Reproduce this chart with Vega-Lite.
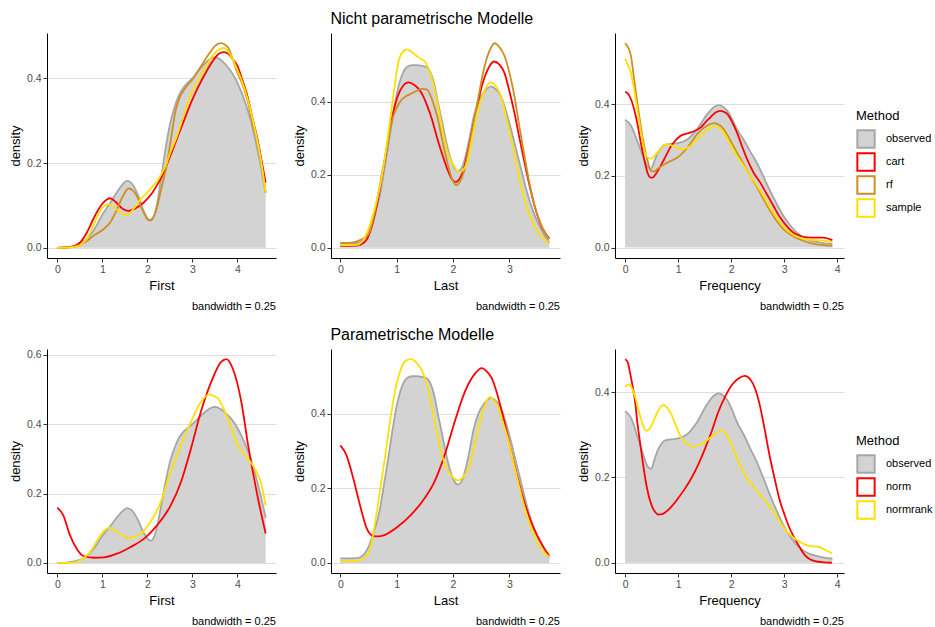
{
"$schema":"https://vega.github.io/schema/vega-lite/v6.json",
"background":"white",
"padding":{"left":9,"top":11,"right":0,"bottom":0},
"config":{
 "font":"Liberation Sans",
 "view":{"stroke":null},
 "axis":{"labelFont":"Liberation Sans","labelFontSize":10.5,"labelColor":"#4D4D4D","titleFont":"Liberation Sans","titleFontSize":13,"titleFontWeight":"normal","titleColor":"#000000","tickColor":"#333333","tickSize":4,"labelPadding":2,"domainColor":"#000000","domainWidth":1,"gridColor":"#DEDEDE","gridWidth":1},
 "axisX":{"grid":false,"titlePadding":5},
 "axisY":{"grid":true,"titlePadding":4},
 "title":{"fontWeight":"normal","font":"Liberation Sans","color":"#000000"},
 "legend":{"titleFont":"Liberation Sans","labelFont":"Liberation Sans","titleFontSize":13,"titleFontWeight":"normal","labelFontSize":11,"labelColor":"#000000","titleColor":"#000000"},
 "concat":{"spacing":17}
},
"data":{"values":[
{"v":"First","m":"observed","x":0,"d":0},{"v":"First","m":"observed","x":0.2,"d":0.001},{"v":"First","m":"observed","x":0.4,"d":0.005},{"v":"First","m":"observed","x":0.6,"d":0.016},{"v":"First","m":"observed","x":0.8,"d":0.04},{"v":"First","m":"observed","x":1.0,"d":0.078},{"v":"First","m":"observed","x":1.2,"d":0.11},{"v":"First","m":"observed","x":1.4,"d":0.143},{"v":"First","m":"observed","x":1.55,"d":0.158},{"v":"First","m":"observed","x":1.7,"d":0.145},{"v":"First","m":"observed","x":1.8,"d":0.122},{"v":"First","m":"observed","x":1.9,"d":0.092},{"v":"First","m":"observed","x":2.0,"d":0.07},{"v":"First","m":"observed","x":2.08,"d":0.064},{"v":"First","m":"observed","x":2.2,"d":0.095},{"v":"First","m":"observed","x":2.3,"d":0.16},{"v":"First","m":"observed","x":2.4,"d":0.23},{"v":"First","m":"observed","x":2.5,"d":0.29},{"v":"First","m":"observed","x":2.6,"d":0.33},{"v":"First","m":"observed","x":2.7,"d":0.36},{"v":"First","m":"observed","x":2.8,"d":0.378},{"v":"First","m":"observed","x":2.9,"d":0.39},{"v":"First","m":"observed","x":3.0,"d":0.4},{"v":"First","m":"observed","x":3.1,"d":0.413},{"v":"First","m":"observed","x":3.2,"d":0.426},{"v":"First","m":"observed","x":3.3,"d":0.437},{"v":"First","m":"observed","x":3.4,"d":0.446},{"v":"First","m":"observed","x":3.5,"d":0.45},{"v":"First","m":"observed","x":3.6,"d":0.446},{"v":"First","m":"observed","x":3.7,"d":0.437},{"v":"First","m":"observed","x":3.8,"d":0.425},{"v":"First","m":"observed","x":3.9,"d":0.41},{"v":"First","m":"observed","x":4.0,"d":0.39},{"v":"First","m":"observed","x":4.1,"d":0.365},{"v":"First","m":"observed","x":4.2,"d":0.335},{"v":"First","m":"observed","x":4.3,"d":0.3},{"v":"First","m":"observed","x":4.4,"d":0.255},{"v":"First","m":"observed","x":4.5,"d":0.205},{"v":"First","m":"observed","x":4.63,"d":0.13},
{"v":"First","m":"cart","x":0,"d":0},{"v":"First","m":"cart","x":0.3,"d":0.002},{"v":"First","m":"cart","x":0.5,"d":0.012},{"v":"First","m":"cart","x":0.65,"d":0.035},{"v":"First","m":"cart","x":0.8,"d":0.068},{"v":"First","m":"cart","x":0.9,"d":0.088},{"v":"First","m":"cart","x":1.0,"d":0.104},{"v":"First","m":"cart","x":1.1,"d":0.114},{"v":"First","m":"cart","x":1.17,"d":0.117},{"v":"First","m":"cart","x":1.3,"d":0.108},{"v":"First","m":"cart","x":1.45,"d":0.092},{"v":"First","m":"cart","x":1.58,"d":0.087},{"v":"First","m":"cart","x":1.75,"d":0.094},{"v":"First","m":"cart","x":1.92,"d":0.107},{"v":"First","m":"cart","x":2.1,"d":0.128},{"v":"First","m":"cart","x":2.2,"d":0.145},{"v":"First","m":"cart","x":2.33,"d":0.17},{"v":"First","m":"cart","x":2.51,"d":0.217},{"v":"First","m":"cart","x":2.74,"d":0.28},{"v":"First","m":"cart","x":3.0,"d":0.35},{"v":"First","m":"cart","x":3.26,"d":0.406},{"v":"First","m":"cart","x":3.45,"d":0.44},{"v":"First","m":"cart","x":3.59,"d":0.458},{"v":"First","m":"cart","x":3.7,"d":0.462},{"v":"First","m":"cart","x":3.8,"d":0.458},{"v":"First","m":"cart","x":3.9,"d":0.445},{"v":"First","m":"cart","x":4.0,"d":0.43},{"v":"First","m":"cart","x":4.1,"d":0.4},{"v":"First","m":"cart","x":4.22,"d":0.36},{"v":"First","m":"cart","x":4.35,"d":0.3},{"v":"First","m":"cart","x":4.45,"d":0.256},{"v":"First","m":"cart","x":4.55,"d":0.2},{"v":"First","m":"cart","x":4.63,"d":0.154},
{"v":"First","m":"rf","x":0,"d":0},{"v":"First","m":"rf","x":0.4,"d":0.003},{"v":"First","m":"rf","x":0.6,"d":0.012},{"v":"First","m":"rf","x":0.8,"d":0.028},{"v":"First","m":"rf","x":1.0,"d":0.042},{"v":"First","m":"rf","x":1.17,"d":0.059},{"v":"First","m":"rf","x":1.3,"d":0.085},{"v":"First","m":"rf","x":1.45,"d":0.12},{"v":"First","m":"rf","x":1.58,"d":0.14},{"v":"First","m":"rf","x":1.68,"d":0.135},{"v":"First","m":"rf","x":1.77,"d":0.122},{"v":"First","m":"rf","x":1.85,"d":0.1},{"v":"First","m":"rf","x":1.92,"d":0.083},{"v":"First","m":"rf","x":2.03,"d":0.065},{"v":"First","m":"rf","x":2.1,"d":0.068},{"v":"First","m":"rf","x":2.2,"d":0.09},{"v":"First","m":"rf","x":2.3,"d":0.135},{"v":"First","m":"rf","x":2.44,"d":0.2},{"v":"First","m":"rf","x":2.53,"d":0.26},{"v":"First","m":"rf","x":2.62,"d":0.32},{"v":"First","m":"rf","x":2.72,"d":0.355},{"v":"First","m":"rf","x":2.81,"d":0.372},{"v":"First","m":"rf","x":2.9,"d":0.385},{"v":"First","m":"rf","x":3.0,"d":0.397},{"v":"First","m":"rf","x":3.1,"d":0.413},{"v":"First","m":"rf","x":3.26,"d":0.44},{"v":"First","m":"rf","x":3.4,"d":0.462},{"v":"First","m":"rf","x":3.5,"d":0.476},{"v":"First","m":"rf","x":3.63,"d":0.483},{"v":"First","m":"rf","x":3.72,"d":0.48},{"v":"First","m":"rf","x":3.81,"d":0.47},{"v":"First","m":"rf","x":3.9,"d":0.445},{"v":"First","m":"rf","x":4.0,"d":0.414},{"v":"First","m":"rf","x":4.1,"d":0.39},{"v":"First","m":"rf","x":4.22,"d":0.35},{"v":"First","m":"rf","x":4.35,"d":0.29},{"v":"First","m":"rf","x":4.45,"d":0.25},{"v":"First","m":"rf","x":4.55,"d":0.19},{"v":"First","m":"rf","x":4.63,"d":0.13},
{"v":"First","m":"sample","x":0,"d":0},{"v":"First","m":"sample","x":0.3,"d":0.001},{"v":"First","m":"sample","x":0.5,"d":0.006},{"v":"First","m":"sample","x":0.65,"d":0.02},{"v":"First","m":"sample","x":0.8,"d":0.052},{"v":"First","m":"sample","x":0.95,"d":0.087},{"v":"First","m":"sample","x":1.05,"d":0.099},{"v":"First","m":"sample","x":1.14,"d":0.103},{"v":"First","m":"sample","x":1.25,"d":0.097},{"v":"First","m":"sample","x":1.38,"d":0.085},{"v":"First","m":"sample","x":1.51,"d":0.077},{"v":"First","m":"sample","x":1.6,"d":0.08},{"v":"First","m":"sample","x":1.7,"d":0.093},{"v":"First","m":"sample","x":1.8,"d":0.108},{"v":"First","m":"sample","x":1.92,"d":0.122},{"v":"First","m":"sample","x":2.05,"d":0.137},{"v":"First","m":"sample","x":2.22,"d":0.158},{"v":"First","m":"sample","x":2.4,"d":0.193},{"v":"First","m":"sample","x":2.53,"d":0.23},{"v":"First","m":"sample","x":2.66,"d":0.264},{"v":"First","m":"sample","x":2.8,"d":0.31},{"v":"First","m":"sample","x":2.96,"d":0.36},{"v":"First","m":"sample","x":3.1,"d":0.39},{"v":"First","m":"sample","x":3.26,"d":0.42},{"v":"First","m":"sample","x":3.4,"d":0.445},{"v":"First","m":"sample","x":3.55,"d":0.465},{"v":"First","m":"sample","x":3.7,"d":0.472},{"v":"First","m":"sample","x":3.8,"d":0.463},{"v":"First","m":"sample","x":3.9,"d":0.445},{"v":"First","m":"sample","x":4.0,"d":0.42},{"v":"First","m":"sample","x":4.1,"d":0.395},{"v":"First","m":"sample","x":4.22,"d":0.355},{"v":"First","m":"sample","x":4.35,"d":0.3},{"v":"First","m":"sample","x":4.45,"d":0.25},{"v":"First","m":"sample","x":4.55,"d":0.19},{"v":"First","m":"sample","x":4.63,"d":0.13},
{"v":"First","m":"norm","x":0,"d":0.159},{"v":"First","m":"norm","x":0.13,"d":0.138},{"v":"First","m":"norm","x":0.28,"d":0.08},{"v":"First","m":"norm","x":0.43,"d":0.041},{"v":"First","m":"norm","x":0.58,"d":0.02},{"v":"First","m":"norm","x":0.81,"d":0.015},{"v":"First","m":"norm","x":1.03,"d":0.016},{"v":"First","m":"norm","x":1.33,"d":0.027},{"v":"First","m":"norm","x":1.63,"d":0.046},{"v":"First","m":"norm","x":1.93,"d":0.07},{"v":"First","m":"norm","x":2.22,"d":0.109},{"v":"First","m":"norm","x":2.52,"d":0.166},{"v":"First","m":"norm","x":2.75,"d":0.234},{"v":"First","m":"norm","x":2.97,"d":0.33},{"v":"First","m":"norm","x":3.19,"d":0.436},{"v":"First","m":"norm","x":3.42,"d":0.522},{"v":"First","m":"norm","x":3.64,"d":0.58},{"v":"First","m":"norm","x":3.76,"d":0.588},{"v":"First","m":"norm","x":3.9,"d":0.56},{"v":"First","m":"norm","x":4.09,"d":0.464},{"v":"First","m":"norm","x":4.24,"d":0.34},{"v":"First","m":"norm","x":4.46,"d":0.186},{"v":"First","m":"norm","x":4.63,"d":0.085},
{"v":"First","m":"normrank","x":0,"d":0},{"v":"First","m":"normrank","x":0.3,"d":0.0},{"v":"First","m":"normrank","x":0.51,"d":0.008},{"v":"First","m":"normrank","x":0.73,"d":0.032},{"v":"First","m":"normrank","x":0.96,"d":0.08},{"v":"First","m":"normrank","x":1.06,"d":0.095},{"v":"First","m":"normrank","x":1.16,"d":0.102},{"v":"First","m":"normrank","x":1.27,"d":0.096},{"v":"First","m":"normrank","x":1.37,"d":0.085},{"v":"First","m":"normrank","x":1.59,"d":0.072},{"v":"First","m":"normrank","x":1.81,"d":0.08},{"v":"First","m":"normrank","x":2.07,"d":0.118},{"v":"First","m":"normrank","x":2.3,"d":0.176},{"v":"First","m":"normrank","x":2.52,"d":0.263},{"v":"First","m":"normrank","x":2.75,"d":0.34},{"v":"First","m":"normrank","x":2.97,"d":0.407},{"v":"First","m":"normrank","x":3.19,"d":0.464},{"v":"First","m":"normrank","x":3.38,"d":0.486},{"v":"First","m":"normrank","x":3.5,"d":0.48},{"v":"First","m":"normrank","x":3.57,"d":0.474},{"v":"First","m":"normrank","x":3.79,"d":0.416},{"v":"First","m":"normrank","x":4.01,"d":0.34},{"v":"First","m":"normrank","x":4.24,"d":0.3},{"v":"First","m":"normrank","x":4.39,"d":0.272},{"v":"First","m":"normrank","x":4.54,"d":0.224},{"v":"First","m":"normrank","x":4.63,"d":0.165},
{"v":"Last","m":"observed","x":0,"d":0.012},{"v":"Last","m":"observed","x":0.3,"d":0.013},{"v":"Last","m":"observed","x":0.4,"d":0.02},{"v":"Last","m":"observed","x":0.52,"d":0.05},{"v":"Last","m":"observed","x":0.6,"d":0.085},{"v":"Last","m":"observed","x":0.7,"d":0.142},{"v":"Last","m":"observed","x":0.78,"d":0.215},{"v":"Last","m":"observed","x":0.85,"d":0.28},{"v":"Last","m":"observed","x":0.92,"d":0.35},{"v":"Last","m":"observed","x":1.0,"d":0.42},{"v":"Last","m":"observed","x":1.1,"d":0.475},{"v":"Last","m":"observed","x":1.18,"d":0.495},{"v":"Last","m":"observed","x":1.27,"d":0.5},{"v":"Last","m":"observed","x":1.36,"d":0.5},{"v":"Last","m":"observed","x":1.45,"d":0.498},{"v":"Last","m":"observed","x":1.54,"d":0.494},{"v":"Last","m":"observed","x":1.6,"d":0.48},{"v":"Last","m":"observed","x":1.66,"d":0.453},{"v":"Last","m":"observed","x":1.73,"d":0.4},{"v":"Last","m":"observed","x":1.81,"d":0.343},{"v":"Last","m":"observed","x":1.88,"d":0.29},{"v":"Last","m":"observed","x":1.96,"d":0.243},{"v":"Last","m":"observed","x":2.02,"d":0.22},{"v":"Last","m":"observed","x":2.08,"d":0.21},{"v":"Last","m":"observed","x":2.13,"d":0.213},{"v":"Last","m":"observed","x":2.19,"d":0.233},{"v":"Last","m":"observed","x":2.28,"d":0.29},{"v":"Last","m":"observed","x":2.37,"d":0.36},{"v":"Last","m":"observed","x":2.46,"d":0.403},{"v":"Last","m":"observed","x":2.55,"d":0.426},{"v":"Last","m":"observed","x":2.68,"d":0.442},{"v":"Last","m":"observed","x":2.76,"d":0.434},{"v":"Last","m":"observed","x":2.85,"d":0.416},{"v":"Last","m":"observed","x":2.94,"d":0.375},{"v":"Last","m":"observed","x":3.03,"d":0.325},{"v":"Last","m":"observed","x":3.12,"d":0.27},{"v":"Last","m":"observed","x":3.21,"d":0.215},{"v":"Last","m":"observed","x":3.3,"d":0.16},{"v":"Last","m":"observed","x":3.39,"d":0.114},{"v":"Last","m":"observed","x":3.48,"d":0.078},{"v":"Last","m":"observed","x":3.57,"d":0.05},{"v":"Last","m":"observed","x":3.64,"d":0.03},{"v":"Last","m":"observed","x":3.71,"d":0.014},
{"v":"Last","m":"cart","x":0,"d":0.005},{"v":"Last","m":"cart","x":0.3,"d":0.006},{"v":"Last","m":"cart","x":0.4,"d":0.012},{"v":"Last","m":"cart","x":0.47,"d":0.023},{"v":"Last","m":"cart","x":0.58,"d":0.07},{"v":"Last","m":"cart","x":0.7,"d":0.16},{"v":"Last","m":"cart","x":0.8,"d":0.25},{"v":"Last","m":"cart","x":0.88,"d":0.325},{"v":"Last","m":"cart","x":0.97,"d":0.39},{"v":"Last","m":"cart","x":1.06,"d":0.43},{"v":"Last","m":"cart","x":1.14,"d":0.448},{"v":"Last","m":"cart","x":1.21,"d":0.453},{"v":"Last","m":"cart","x":1.3,"d":0.447},{"v":"Last","m":"cart","x":1.39,"d":0.435},{"v":"Last","m":"cart","x":1.47,"d":0.415},{"v":"Last","m":"cart","x":1.54,"d":0.39},{"v":"Last","m":"cart","x":1.63,"d":0.35},{"v":"Last","m":"cart","x":1.72,"d":0.3},{"v":"Last","m":"cart","x":1.81,"d":0.255},{"v":"Last","m":"cart","x":1.9,"d":0.215},{"v":"Last","m":"cart","x":1.98,"d":0.188},{"v":"Last","m":"cart","x":2.05,"d":0.18},{"v":"Last","m":"cart","x":2.12,"d":0.19},{"v":"Last","m":"cart","x":2.19,"d":0.215},{"v":"Last","m":"cart","x":2.28,"d":0.275},{"v":"Last","m":"cart","x":2.37,"d":0.343},{"v":"Last","m":"cart","x":2.46,"d":0.41},{"v":"Last","m":"cart","x":2.55,"d":0.462},{"v":"Last","m":"cart","x":2.64,"d":0.495},{"v":"Last","m":"cart","x":2.73,"d":0.51},{"v":"Last","m":"cart","x":2.82,"d":0.502},{"v":"Last","m":"cart","x":2.91,"d":0.48},{"v":"Last","m":"cart","x":3.0,"d":0.43},{"v":"Last","m":"cart","x":3.09,"d":0.37},{"v":"Last","m":"cart","x":3.18,"d":0.3},{"v":"Last","m":"cart","x":3.27,"d":0.233},{"v":"Last","m":"cart","x":3.36,"d":0.17},{"v":"Last","m":"cart","x":3.45,"d":0.114},{"v":"Last","m":"cart","x":3.53,"d":0.075},{"v":"Last","m":"cart","x":3.6,"d":0.05},{"v":"Last","m":"cart","x":3.71,"d":0.025},
{"v":"Last","m":"rf","x":0,"d":0.013},{"v":"Last","m":"rf","x":0.2,"d":0.014},{"v":"Last","m":"rf","x":0.35,"d":0.021},{"v":"Last","m":"rf","x":0.5,"d":0.037},{"v":"Last","m":"rf","x":0.6,"d":0.09},{"v":"Last","m":"rf","x":0.7,"d":0.17},{"v":"Last","m":"rf","x":0.82,"d":0.27},{"v":"Last","m":"rf","x":0.94,"d":0.36},{"v":"Last","m":"rf","x":1.06,"d":0.4},{"v":"Last","m":"rf","x":1.18,"d":0.416},{"v":"Last","m":"rf","x":1.27,"d":0.423},{"v":"Last","m":"rf","x":1.36,"d":0.43},{"v":"Last","m":"rf","x":1.45,"d":0.435},{"v":"Last","m":"rf","x":1.54,"d":0.433},{"v":"Last","m":"rf","x":1.63,"d":0.405},{"v":"Last","m":"rf","x":1.72,"d":0.36},{"v":"Last","m":"rf","x":1.81,"d":0.295},{"v":"Last","m":"rf","x":1.9,"d":0.233},{"v":"Last","m":"rf","x":1.98,"d":0.19},{"v":"Last","m":"rf","x":2.06,"d":0.171},{"v":"Last","m":"rf","x":2.12,"d":0.18},{"v":"Last","m":"rf","x":2.19,"d":0.206},{"v":"Last","m":"rf","x":2.28,"d":0.27},{"v":"Last","m":"rf","x":2.37,"d":0.343},{"v":"Last","m":"rf","x":2.46,"d":0.42},{"v":"Last","m":"rf","x":2.55,"d":0.49},{"v":"Last","m":"rf","x":2.65,"d":0.54},{"v":"Last","m":"rf","x":2.74,"d":0.56},{"v":"Last","m":"rf","x":2.82,"d":0.55},{"v":"Last","m":"rf","x":2.91,"d":0.527},{"v":"Last","m":"rf","x":3.0,"d":0.48},{"v":"Last","m":"rf","x":3.09,"d":0.416},{"v":"Last","m":"rf","x":3.18,"d":0.33},{"v":"Last","m":"rf","x":3.27,"d":0.25},{"v":"Last","m":"rf","x":3.36,"d":0.175},{"v":"Last","m":"rf","x":3.45,"d":0.114},{"v":"Last","m":"rf","x":3.53,"d":0.075},{"v":"Last","m":"rf","x":3.6,"d":0.05},{"v":"Last","m":"rf","x":3.71,"d":0.023},
{"v":"Last","m":"sample","x":0,"d":0.007},{"v":"Last","m":"sample","x":0.3,"d":0.008},{"v":"Last","m":"sample","x":0.42,"d":0.025},{"v":"Last","m":"sample","x":0.52,"d":0.06},{"v":"Last","m":"sample","x":0.63,"d":0.12},{"v":"Last","m":"sample","x":0.73,"d":0.188},{"v":"Last","m":"sample","x":0.84,"d":0.3},{"v":"Last","m":"sample","x":0.94,"d":0.416},{"v":"Last","m":"sample","x":1.03,"d":0.508},{"v":"Last","m":"sample","x":1.1,"d":0.535},{"v":"Last","m":"sample","x":1.18,"d":0.543},{"v":"Last","m":"sample","x":1.25,"d":0.538},{"v":"Last","m":"sample","x":1.33,"d":0.528},{"v":"Last","m":"sample","x":1.42,"d":0.518},{"v":"Last","m":"sample","x":1.51,"d":0.508},{"v":"Last","m":"sample","x":1.58,"d":0.485},{"v":"Last","m":"sample","x":1.66,"d":0.444},{"v":"Last","m":"sample","x":1.75,"d":0.375},{"v":"Last","m":"sample","x":1.84,"d":0.3},{"v":"Last","m":"sample","x":1.93,"d":0.25},{"v":"Last","m":"sample","x":2.02,"d":0.224},{"v":"Last","m":"sample","x":2.08,"d":0.21},{"v":"Last","m":"sample","x":2.13,"d":0.208},{"v":"Last","m":"sample","x":2.19,"d":0.215},{"v":"Last","m":"sample","x":2.25,"d":0.233},{"v":"Last","m":"sample","x":2.34,"d":0.3},{"v":"Last","m":"sample","x":2.43,"d":0.37},{"v":"Last","m":"sample","x":2.55,"d":0.426},{"v":"Last","m":"sample","x":2.62,"d":0.448},{"v":"Last","m":"sample","x":2.69,"d":0.453},{"v":"Last","m":"sample","x":2.77,"d":0.44},{"v":"Last","m":"sample","x":2.85,"d":0.416},{"v":"Last","m":"sample","x":2.94,"d":0.36},{"v":"Last","m":"sample","x":3.03,"d":0.3},{"v":"Last","m":"sample","x":3.12,"d":0.235},{"v":"Last","m":"sample","x":3.21,"d":0.17},{"v":"Last","m":"sample","x":3.3,"d":0.115},{"v":"Last","m":"sample","x":3.39,"d":0.078},{"v":"Last","m":"sample","x":3.48,"d":0.05},{"v":"Last","m":"sample","x":3.57,"d":0.032},{"v":"Last","m":"sample","x":3.71,"d":0.011},
{"v":"Last","m":"norm","x":0,"d":0.315},{"v":"Last","m":"norm","x":0.11,"d":0.288},{"v":"Last","m":"norm","x":0.23,"d":0.226},{"v":"Last","m":"norm","x":0.35,"d":0.154},{"v":"Last","m":"norm","x":0.47,"d":0.092},{"v":"Last","m":"norm","x":0.59,"d":0.072},{"v":"Last","m":"norm","x":0.68,"d":0.071},{"v":"Last","m":"norm","x":0.77,"d":0.074},{"v":"Last","m":"norm","x":1.01,"d":0.096},{"v":"Last","m":"norm","x":1.25,"d":0.128},{"v":"Last","m":"norm","x":1.49,"d":0.172},{"v":"Last","m":"norm","x":1.67,"d":0.217},{"v":"Last","m":"norm","x":1.85,"d":0.288},{"v":"Last","m":"norm","x":2.03,"d":0.378},{"v":"Last","m":"norm","x":2.21,"d":0.458},{"v":"Last","m":"norm","x":2.39,"d":0.507},{"v":"Last","m":"norm","x":2.51,"d":0.522},{"v":"Last","m":"norm","x":2.6,"d":0.513},{"v":"Last","m":"norm","x":2.69,"d":0.494},{"v":"Last","m":"norm","x":2.78,"d":0.455},{"v":"Last","m":"norm","x":2.87,"d":0.404},{"v":"Last","m":"norm","x":3.05,"d":0.288},{"v":"Last","m":"norm","x":3.23,"d":0.181},{"v":"Last","m":"norm","x":3.41,"d":0.101},{"v":"Last","m":"norm","x":3.59,"d":0.047},{"v":"Last","m":"norm","x":3.71,"d":0.019},
{"v":"Last","m":"normrank","x":0,"d":0.004},{"v":"Last","m":"normrank","x":0.35,"d":0.007},{"v":"Last","m":"normrank","x":0.45,"d":0.018},{"v":"Last","m":"normrank","x":0.53,"d":0.038},{"v":"Last","m":"normrank","x":0.62,"d":0.11},{"v":"Last","m":"normrank","x":0.71,"d":0.2},{"v":"Last","m":"normrank","x":0.8,"d":0.29},{"v":"Last","m":"normrank","x":0.89,"d":0.387},{"v":"Last","m":"normrank","x":0.97,"d":0.46},{"v":"Last","m":"normrank","x":1.04,"d":0.503},{"v":"Last","m":"normrank","x":1.15,"d":0.54},{"v":"Last","m":"normrank","x":1.25,"d":0.546},{"v":"Last","m":"normrank","x":1.36,"d":0.535},{"v":"Last","m":"normrank","x":1.46,"d":0.512},{"v":"Last","m":"normrank","x":1.54,"d":0.475},{"v":"Last","m":"normrank","x":1.61,"d":0.431},{"v":"Last","m":"normrank","x":1.7,"d":0.36},{"v":"Last","m":"normrank","x":1.79,"d":0.297},{"v":"Last","m":"normrank","x":1.88,"d":0.255},{"v":"Last","m":"normrank","x":1.97,"d":0.235},{"v":"Last","m":"normrank","x":2.03,"d":0.225},{"v":"Last","m":"normrank","x":2.09,"d":0.221},{"v":"Last","m":"normrank","x":2.18,"d":0.23},{"v":"Last","m":"normrank","x":2.27,"d":0.253},{"v":"Last","m":"normrank","x":2.36,"d":0.3},{"v":"Last","m":"normrank","x":2.45,"d":0.36},{"v":"Last","m":"normrank","x":2.55,"d":0.415},{"v":"Last","m":"normrank","x":2.65,"d":0.445},{"v":"Last","m":"normrank","x":2.73,"d":0.435},{"v":"Last","m":"normrank","x":2.81,"d":0.413},{"v":"Last","m":"normrank","x":2.9,"d":0.37},{"v":"Last","m":"normrank","x":2.99,"d":0.324},{"v":"Last","m":"normrank","x":3.08,"d":0.265},{"v":"Last","m":"normrank","x":3.17,"d":0.208},{"v":"Last","m":"normrank","x":3.26,"d":0.155},{"v":"Last","m":"normrank","x":3.35,"d":0.11},{"v":"Last","m":"normrank","x":3.44,"d":0.075},{"v":"Last","m":"normrank","x":3.53,"d":0.047},{"v":"Last","m":"normrank","x":3.62,"d":0.028},{"v":"Last","m":"normrank","x":3.71,"d":0.016},
{"v":"Frequency","m":"observed","x":0,"d":0.356},{"v":"Frequency","m":"observed","x":0.11,"d":0.34},{"v":"Frequency","m":"observed","x":0.24,"d":0.293},{"v":"Frequency","m":"observed","x":0.36,"d":0.247},{"v":"Frequency","m":"observed","x":0.43,"d":0.225},{"v":"Frequency","m":"observed","x":0.49,"d":0.22},{"v":"Frequency","m":"observed","x":0.55,"d":0.24},{"v":"Frequency","m":"observed","x":0.61,"d":0.262},{"v":"Frequency","m":"observed","x":0.68,"d":0.278},{"v":"Frequency","m":"observed","x":0.74,"d":0.286},{"v":"Frequency","m":"observed","x":0.86,"d":0.289},{"v":"Frequency","m":"observed","x":1.02,"d":0.292},{"v":"Frequency","m":"observed","x":1.18,"d":0.302},{"v":"Frequency","m":"observed","x":1.36,"d":0.33},{"v":"Frequency","m":"observed","x":1.55,"d":0.372},{"v":"Frequency","m":"observed","x":1.68,"d":0.392},{"v":"Frequency","m":"observed","x":1.77,"d":0.397},{"v":"Frequency","m":"observed","x":1.85,"d":0.392},{"v":"Frequency","m":"observed","x":1.93,"d":0.381},{"v":"Frequency","m":"observed","x":2.02,"d":0.358},{"v":"Frequency","m":"observed","x":2.11,"d":0.33},{"v":"Frequency","m":"observed","x":2.24,"d":0.3},{"v":"Frequency","m":"observed","x":2.36,"d":0.268},{"v":"Frequency","m":"observed","x":2.49,"d":0.235},{"v":"Frequency","m":"observed","x":2.61,"d":0.198},{"v":"Frequency","m":"observed","x":2.73,"d":0.16},{"v":"Frequency","m":"observed","x":2.86,"d":0.122},{"v":"Frequency","m":"observed","x":2.98,"d":0.09},{"v":"Frequency","m":"observed","x":3.11,"d":0.063},{"v":"Frequency","m":"observed","x":3.23,"d":0.043},{"v":"Frequency","m":"observed","x":3.36,"d":0.029},{"v":"Frequency","m":"observed","x":3.48,"d":0.021},{"v":"Frequency","m":"observed","x":3.61,"d":0.016},{"v":"Frequency","m":"observed","x":3.76,"d":0.012},{"v":"Frequency","m":"observed","x":3.91,"d":0.01},
{"v":"Frequency","m":"cart","x":0,"d":0.434},{"v":"Frequency","m":"cart","x":0.05,"d":0.43},{"v":"Frequency","m":"cart","x":0.11,"d":0.414},{"v":"Frequency","m":"cart","x":0.18,"d":0.38},{"v":"Frequency","m":"cart","x":0.24,"d":0.34},{"v":"Frequency","m":"cart","x":0.3,"d":0.29},{"v":"Frequency","m":"cart","x":0.36,"d":0.247},{"v":"Frequency","m":"cart","x":0.42,"d":0.21},{"v":"Frequency","m":"cart","x":0.48,"d":0.195},{"v":"Frequency","m":"cart","x":0.53,"d":0.196},{"v":"Frequency","m":"cart","x":0.58,"d":0.205},{"v":"Frequency","m":"cart","x":0.66,"d":0.225},{"v":"Frequency","m":"cart","x":0.74,"d":0.247},{"v":"Frequency","m":"cart","x":0.89,"d":0.288},{"v":"Frequency","m":"cart","x":1.05,"d":0.312},{"v":"Frequency","m":"cart","x":1.24,"d":0.321},{"v":"Frequency","m":"cart","x":1.43,"d":0.335},{"v":"Frequency","m":"cart","x":1.52,"d":0.35},{"v":"Frequency","m":"cart","x":1.61,"d":0.363},{"v":"Frequency","m":"cart","x":1.7,"d":0.376},{"v":"Frequency","m":"cart","x":1.8,"d":0.381},{"v":"Frequency","m":"cart","x":1.87,"d":0.378},{"v":"Frequency","m":"cart","x":1.93,"d":0.372},{"v":"Frequency","m":"cart","x":2.02,"d":0.35},{"v":"Frequency","m":"cart","x":2.11,"d":0.321},{"v":"Frequency","m":"cart","x":2.2,"d":0.285},{"v":"Frequency","m":"cart","x":2.3,"d":0.247},{"v":"Frequency","m":"cart","x":2.42,"d":0.21},{"v":"Frequency","m":"cart","x":2.55,"d":0.181},{"v":"Frequency","m":"cart","x":2.67,"d":0.15},{"v":"Frequency","m":"cart","x":2.8,"d":0.116},{"v":"Frequency","m":"cart","x":2.92,"d":0.085},{"v":"Frequency","m":"cart","x":3.05,"d":0.06},{"v":"Frequency","m":"cart","x":3.17,"d":0.042},{"v":"Frequency","m":"cart","x":3.3,"d":0.033},{"v":"Frequency","m":"cart","x":3.4,"d":0.029},{"v":"Frequency","m":"cart","x":3.49,"d":0.028},{"v":"Frequency","m":"cart","x":3.74,"d":0.028},{"v":"Frequency","m":"cart","x":3.91,"d":0.021},
{"v":"Frequency","m":"rf","x":0,"d":0.57},{"v":"Frequency","m":"rf","x":0.05,"d":0.56},{"v":"Frequency","m":"rf","x":0.11,"d":0.535},{"v":"Frequency","m":"rf","x":0.17,"d":0.47},{"v":"Frequency","m":"rf","x":0.24,"d":0.395},{"v":"Frequency","m":"rf","x":0.3,"d":0.335},{"v":"Frequency","m":"rf","x":0.36,"d":0.284},{"v":"Frequency","m":"rf","x":0.42,"d":0.245},{"v":"Frequency","m":"rf","x":0.49,"d":0.214},{"v":"Frequency","m":"rf","x":0.55,"d":0.212},{"v":"Frequency","m":"rf","x":0.61,"d":0.219},{"v":"Frequency","m":"rf","x":0.8,"d":0.237},{"v":"Frequency","m":"rf","x":0.99,"d":0.251},{"v":"Frequency","m":"rf","x":1.18,"d":0.279},{"v":"Frequency","m":"rf","x":1.36,"d":0.316},{"v":"Frequency","m":"rf","x":1.55,"d":0.34},{"v":"Frequency","m":"rf","x":1.68,"d":0.347},{"v":"Frequency","m":"rf","x":1.77,"d":0.342},{"v":"Frequency","m":"rf","x":1.86,"d":0.33},{"v":"Frequency","m":"rf","x":1.98,"d":0.3},{"v":"Frequency","m":"rf","x":2.11,"d":0.265},{"v":"Frequency","m":"rf","x":2.24,"d":0.232},{"v":"Frequency","m":"rf","x":2.36,"d":0.2},{"v":"Frequency","m":"rf","x":2.49,"d":0.168},{"v":"Frequency","m":"rf","x":2.61,"d":0.135},{"v":"Frequency","m":"rf","x":2.73,"d":0.104},{"v":"Frequency","m":"rf","x":2.86,"d":0.074},{"v":"Frequency","m":"rf","x":2.98,"d":0.053},{"v":"Frequency","m":"rf","x":3.11,"d":0.037},{"v":"Frequency","m":"rf","x":3.23,"d":0.027},{"v":"Frequency","m":"rf","x":3.36,"d":0.019},{"v":"Frequency","m":"rf","x":3.48,"d":0.013},{"v":"Frequency","m":"rf","x":3.61,"d":0.009},{"v":"Frequency","m":"rf","x":3.91,"d":0.005},
{"v":"Frequency","m":"sample","x":0,"d":0.526},{"v":"Frequency","m":"sample","x":0.05,"d":0.51},{"v":"Frequency","m":"sample","x":0.11,"d":0.488},{"v":"Frequency","m":"sample","x":0.17,"d":0.44},{"v":"Frequency","m":"sample","x":0.24,"d":0.377},{"v":"Frequency","m":"sample","x":0.3,"d":0.32},{"v":"Frequency","m":"sample","x":0.36,"d":0.274},{"v":"Frequency","m":"sample","x":0.42,"d":0.252},{"v":"Frequency","m":"sample","x":0.48,"d":0.248},{"v":"Frequency","m":"sample","x":0.53,"d":0.252},{"v":"Frequency","m":"sample","x":0.58,"d":0.26},{"v":"Frequency","m":"sample","x":0.66,"d":0.274},{"v":"Frequency","m":"sample","x":0.74,"d":0.286},{"v":"Frequency","m":"sample","x":0.8,"d":0.288},{"v":"Frequency","m":"sample","x":0.89,"d":0.284},{"v":"Frequency","m":"sample","x":0.99,"d":0.277},{"v":"Frequency","m":"sample","x":1.08,"d":0.274},{"v":"Frequency","m":"sample","x":1.16,"d":0.277},{"v":"Frequency","m":"sample","x":1.24,"d":0.284},{"v":"Frequency","m":"sample","x":1.43,"d":0.312},{"v":"Frequency","m":"sample","x":1.55,"d":0.328},{"v":"Frequency","m":"sample","x":1.68,"d":0.338},{"v":"Frequency","m":"sample","x":1.77,"d":0.333},{"v":"Frequency","m":"sample","x":1.86,"d":0.321},{"v":"Frequency","m":"sample","x":1.98,"d":0.29},{"v":"Frequency","m":"sample","x":2.11,"d":0.256},{"v":"Frequency","m":"sample","x":2.24,"d":0.228},{"v":"Frequency","m":"sample","x":2.36,"d":0.2},{"v":"Frequency","m":"sample","x":2.49,"d":0.172},{"v":"Frequency","m":"sample","x":2.61,"d":0.144},{"v":"Frequency","m":"sample","x":2.73,"d":0.113},{"v":"Frequency","m":"sample","x":2.86,"d":0.084},{"v":"Frequency","m":"sample","x":2.98,"d":0.06},{"v":"Frequency","m":"sample","x":3.11,"d":0.042},{"v":"Frequency","m":"sample","x":3.23,"d":0.031},{"v":"Frequency","m":"sample","x":3.36,"d":0.025},{"v":"Frequency","m":"sample","x":3.48,"d":0.022},{"v":"Frequency","m":"sample","x":3.61,"d":0.021},{"v":"Frequency","m":"sample","x":3.76,"d":0.019},{"v":"Frequency","m":"sample","x":3.91,"d":0.016},
{"v":"Frequency","m":"norm","x":0,"d":0.477},{"v":"Frequency","m":"norm","x":0.05,"d":0.47},{"v":"Frequency","m":"norm","x":0.09,"d":0.448},{"v":"Frequency","m":"norm","x":0.14,"d":0.415},{"v":"Frequency","m":"norm","x":0.19,"d":0.377},{"v":"Frequency","m":"norm","x":0.23,"d":0.33},{"v":"Frequency","m":"norm","x":0.28,"d":0.284},{"v":"Frequency","m":"norm","x":0.33,"d":0.24},{"v":"Frequency","m":"norm","x":0.38,"d":0.198},{"v":"Frequency","m":"norm","x":0.44,"d":0.16},{"v":"Frequency","m":"norm","x":0.5,"d":0.135},{"v":"Frequency","m":"norm","x":0.56,"d":0.12},{"v":"Frequency","m":"norm","x":0.63,"d":0.113},{"v":"Frequency","m":"norm","x":0.7,"d":0.114},{"v":"Frequency","m":"norm","x":0.78,"d":0.12},{"v":"Frequency","m":"norm","x":0.9,"d":0.135},{"v":"Frequency","m":"norm","x":1.0,"d":0.151},{"v":"Frequency","m":"norm","x":1.12,"d":0.172},{"v":"Frequency","m":"norm","x":1.25,"d":0.198},{"v":"Frequency","m":"norm","x":1.38,"d":0.23},{"v":"Frequency","m":"norm","x":1.51,"d":0.268},{"v":"Frequency","m":"norm","x":1.64,"d":0.31},{"v":"Frequency","m":"norm","x":1.76,"d":0.354},{"v":"Frequency","m":"norm","x":1.89,"d":0.39},{"v":"Frequency","m":"norm","x":2.01,"d":0.416},{"v":"Frequency","m":"norm","x":2.14,"d":0.432},{"v":"Frequency","m":"norm","x":2.26,"d":0.438},{"v":"Frequency","m":"norm","x":2.36,"d":0.43},{"v":"Frequency","m":"norm","x":2.45,"d":0.409},{"v":"Frequency","m":"norm","x":2.54,"d":0.37},{"v":"Frequency","m":"norm","x":2.63,"d":0.315},{"v":"Frequency","m":"norm","x":2.72,"d":0.255},{"v":"Frequency","m":"norm","x":2.82,"d":0.198},{"v":"Frequency","m":"norm","x":2.91,"d":0.15},{"v":"Frequency","m":"norm","x":3.01,"d":0.112},{"v":"Frequency","m":"norm","x":3.1,"d":0.082},{"v":"Frequency","m":"norm","x":3.2,"d":0.057},{"v":"Frequency","m":"norm","x":3.3,"d":0.035},{"v":"Frequency","m":"norm","x":3.39,"d":0.018},{"v":"Frequency","m":"norm","x":3.48,"d":0.009},{"v":"Frequency","m":"norm","x":3.58,"d":0.004},{"v":"Frequency","m":"norm","x":3.75,"d":0.001},{"v":"Frequency","m":"norm","x":3.9,"d":0.0},
{"v":"Frequency","m":"normrank","x":0,"d":0.412},{"v":"Frequency","m":"normrank","x":0.06,"d":0.418},{"v":"Frequency","m":"normrank","x":0.1,"d":0.415},{"v":"Frequency","m":"normrank","x":0.16,"d":0.4},{"v":"Frequency","m":"normrank","x":0.22,"d":0.375},{"v":"Frequency","m":"normrank","x":0.28,"d":0.346},{"v":"Frequency","m":"normrank","x":0.34,"d":0.322},{"v":"Frequency","m":"normrank","x":0.4,"d":0.309},{"v":"Frequency","m":"normrank","x":0.46,"d":0.313},{"v":"Frequency","m":"normrank","x":0.53,"d":0.33},{"v":"Frequency","m":"normrank","x":0.62,"d":0.355},{"v":"Frequency","m":"normrank","x":0.72,"d":0.37},{"v":"Frequency","m":"normrank","x":0.8,"d":0.363},{"v":"Frequency","m":"normrank","x":0.88,"d":0.346},{"v":"Frequency","m":"normrank","x":0.97,"d":0.318},{"v":"Frequency","m":"normrank","x":1.07,"d":0.291},{"v":"Frequency","m":"normrank","x":1.18,"d":0.277},{"v":"Frequency","m":"normrank","x":1.29,"d":0.272},{"v":"Frequency","m":"normrank","x":1.4,"d":0.276},{"v":"Frequency","m":"normrank","x":1.51,"d":0.284},{"v":"Frequency","m":"normrank","x":1.66,"d":0.298},{"v":"Frequency","m":"normrank","x":1.81,"d":0.309},{"v":"Frequency","m":"normrank","x":1.91,"d":0.302},{"v":"Frequency","m":"normrank","x":2.01,"d":0.276},{"v":"Frequency","m":"normrank","x":2.13,"d":0.24},{"v":"Frequency","m":"normrank","x":2.26,"d":0.205},{"v":"Frequency","m":"normrank","x":2.38,"d":0.185},{"v":"Frequency","m":"normrank","x":2.51,"d":0.166},{"v":"Frequency","m":"normrank","x":2.63,"d":0.147},{"v":"Frequency","m":"normrank","x":2.76,"d":0.127},{"v":"Frequency","m":"normrank","x":2.88,"d":0.104},{"v":"Frequency","m":"normrank","x":3.01,"d":0.08},{"v":"Frequency","m":"normrank","x":3.1,"d":0.067},{"v":"Frequency","m":"normrank","x":3.2,"d":0.057},{"v":"Frequency","m":"normrank","x":3.3,"d":0.049},{"v":"Frequency","m":"normrank","x":3.39,"d":0.043},{"v":"Frequency","m":"normrank","x":3.5,"d":0.039},{"v":"Frequency","m":"normrank","x":3.64,"d":0.0375},{"v":"Frequency","m":"normrank","x":3.78,"d":0.03},{"v":"Frequency","m":"normrank","x":3.9,"d":0.022}
]},
"resolve":{"scale":{"fill":"independent","stroke":"independent"}},
"spacing":15,
"vconcat":[
{"title":{"text":"Nicht parametrische Modelle","anchor":"start","fontSize":16,"dx":321,"offset":6},
 "hconcat":[
 {"width":229,"height":225,
  "title":{"text":"bandwidth = 0.25","orient":"bottom","anchor":"end","frame":"group","fontSize":11,"offset":8},
  "transform":[{"filter":{"field":"v","equal":"First"}},{"filter":{"field":"m","oneOf":["observed","cart","rf","sample"]}}],
  "encoding":{
   "x":{"field":"x","type":"quantitative","title":"First","scale":{"domain":[-0.23,4.86],"nice":false,"zero":false},"axis":{"values":[0,1,2,3,4],"format":"d"}},
   "y":{"field":"d","type":"quantitative","title":"density","scale":{"domain":[-0.024,0.507],"nice":false,"zero":false},"axis":{"values":[0,0.2,0.4],"format":".1f"}}},
  "layer":[
   {"transform":[{"filter":{"field":"m","equal":"observed"}}],"mark":{"type":"area","interpolate":"monotone","opacity":1},
    "encoding":{"y2":{"datum":0},"fill":{"field":"m","type":"nominal","scale":{"domain":["observed","cart","rf","sample"],"range":["#D3D3D3","#FFFFFF","#FFFFFF","#FFFFFF"]},"legend":{"title":"Method","orient":"none","legendX":809,"legendY":77,"symbolType":"square","symbolSize":300,"symbolStrokeWidth":2,"labelOffset":10,"rowPadding":-4.5,"titlePadding":6}}}},
   {"mark":{"type":"line","interpolate":"monotone","strokeWidth":1.8},
    "encoding":{"stroke":{"field":"m","type":"nominal","scale":{"domain":["observed","cart","rf","sample"],"range":["#A6A6A6","#FF0000","#CF8E22","#FFE000"]},"legend":{"title":"Method","orient":"none","legendX":809,"legendY":77,"symbolType":"square","symbolSize":300,"symbolStrokeWidth":2,"labelOffset":10,"rowPadding":-4.5,"titlePadding":6}}}}
  ]},
 {"width":229,"height":225,
  "title":{"text":"bandwidth = 0.25","orient":"bottom","anchor":"end","frame":"group","fontSize":11,"offset":8},
  "transform":[{"filter":{"field":"v","equal":"Last"}},{"filter":{"field":"m","oneOf":["observed","cart","rf","sample"]}}],
  "encoding":{
   "x":{"field":"x","type":"quantitative","title":"Last","scale":{"domain":[-0.166,3.9],"nice":false,"zero":false},"axis":{"values":[0,1,2,3],"format":"d"}},
   "y":{"field":"d","type":"quantitative","title":"density","scale":{"domain":[-0.028,0.588],"nice":false,"zero":false},"axis":{"values":[0,0.2,0.4],"format":".1f"}}},
  "layer":[
   {"transform":[{"filter":{"field":"m","equal":"observed"}}],"mark":{"type":"area","interpolate":"monotone","opacity":1},
    "encoding":{"y2":{"datum":0},"fill":{"field":"m","type":"nominal","scale":{"domain":["observed","cart","rf","sample"],"range":["#D3D3D3","#FFFFFF","#FFFFFF","#FFFFFF"]},"legend":{"title":"Method","orient":"none","legendX":809,"legendY":77,"symbolType":"square","symbolSize":300,"symbolStrokeWidth":2,"labelOffset":10,"rowPadding":-4.5,"titlePadding":6}}}},
   {"mark":{"type":"line","interpolate":"monotone","strokeWidth":1.8},
    "encoding":{"stroke":{"field":"m","type":"nominal","scale":{"domain":["observed","cart","rf","sample"],"range":["#A6A6A6","#FF0000","#CF8E22","#FFE000"]},"legend":{"title":"Method","orient":"none","legendX":809,"legendY":77,"symbolType":"square","symbolSize":300,"symbolStrokeWidth":2,"labelOffset":10,"rowPadding":-4.5,"titlePadding":6}}}}
  ]},
 {"width":229,"height":225,
  "title":{"text":"bandwidth = 0.25","orient":"bottom","anchor":"end","frame":"group","fontSize":11,"offset":8},
  "transform":[{"filter":{"field":"v","equal":"Frequency"}},{"filter":{"field":"m","oneOf":["observed","cart","rf","sample"]}}],
  "encoding":{
   "x":{"field":"x","type":"quantitative","title":"Frequency","scale":{"domain":[-0.19,4.13],"nice":false,"zero":false},"axis":{"values":[0,1,2,3,4],"format":"d"}},
   "y":{"field":"d","type":"quantitative","title":"density","scale":{"domain":[-0.029,0.598],"nice":false,"zero":false},"axis":{"values":[0,0.2,0.4],"format":".1f"}}},
  "layer":[
   {"transform":[{"filter":{"field":"m","equal":"observed"}}],"mark":{"type":"area","interpolate":"monotone","opacity":1},
    "encoding":{"y2":{"datum":0},"fill":{"field":"m","type":"nominal","scale":{"domain":["observed","cart","rf","sample"],"range":["#D3D3D3","#FFFFFF","#FFFFFF","#FFFFFF"]},"legend":{"title":"Method","orient":"none","legendX":809,"legendY":77,"symbolType":"square","symbolSize":300,"symbolStrokeWidth":2,"labelOffset":10,"rowPadding":-4.5,"titlePadding":6}}}},
   {"mark":{"type":"line","interpolate":"monotone","strokeWidth":1.8},
    "encoding":{"stroke":{"field":"m","type":"nominal","scale":{"domain":["observed","cart","rf","sample"],"range":["#A6A6A6","#FF0000","#CF8E22","#FFE000"]},"legend":{"title":"Method","orient":"none","legendX":809,"legendY":77,"symbolType":"square","symbolSize":300,"symbolStrokeWidth":2,"labelOffset":10,"rowPadding":-4.5,"titlePadding":6}}}}
  ]}
 ]},
{"title":{"text":"Parametrische Modelle","anchor":"start","fontSize":16,"dx":321,"offset":6},
 "hconcat":[
 {"width":229,"height":224,
  "title":{"text":"bandwidth = 0.25","orient":"bottom","anchor":"end","frame":"group","fontSize":11,"offset":8},
  "transform":[{"filter":{"field":"v","equal":"First"}},{"filter":{"field":"m","oneOf":["observed","norm","normrank"]}}],
  "encoding":{
   "x":{"field":"x","type":"quantitative","title":"First","scale":{"domain":[-0.23,4.86],"nice":false,"zero":false},"axis":{"values":[0,1,2,3,4],"format":"d"}},
   "y":{"field":"d","type":"quantitative","title":"density","scale":{"domain":[-0.029,0.617],"nice":false,"zero":false},"axis":{"values":[0,0.2,0.4,0.6],"format":".1f"}}},
  "layer":[
   {"transform":[{"filter":{"field":"m","equal":"observed"}}],"mark":{"type":"area","interpolate":"monotone","opacity":1},
    "encoding":{"y2":{"datum":0},"fill":{"field":"m","type":"nominal","scale":{"domain":["observed","norm","normrank"],"range":["#D3D3D3","#FFFFFF","#FFFFFF"]},"legend":{"title":"Method","orient":"none","legendX":809,"legendY":86,"symbolType":"square","symbolSize":300,"symbolStrokeWidth":2,"labelOffset":10,"rowPadding":-4.5,"titlePadding":6}}}},
   {"mark":{"type":"line","interpolate":"monotone","strokeWidth":1.8},
    "encoding":{"stroke":{"field":"m","type":"nominal","scale":{"domain":["observed","norm","normrank"],"range":["#A6A6A6","#FF0000","#FFE000"]},"legend":{"title":"Method","orient":"none","legendX":809,"legendY":86,"symbolType":"square","symbolSize":300,"symbolStrokeWidth":2,"labelOffset":10,"rowPadding":-4.5,"titlePadding":6}}}}
  ]},
 {"width":229,"height":224,
  "title":{"text":"bandwidth = 0.25","orient":"bottom","anchor":"end","frame":"group","fontSize":11,"offset":8},
  "transform":[{"filter":{"field":"v","equal":"Last"}},{"filter":{"field":"m","oneOf":["observed","norm","normrank"]}}],
  "encoding":{
   "x":{"field":"x","type":"quantitative","title":"Last","scale":{"domain":[-0.166,3.9],"nice":false,"zero":false},"axis":{"values":[0,1,2,3],"format":"d"}},
   "y":{"field":"d","type":"quantitative","title":"density","scale":{"domain":[-0.027,0.573],"nice":false,"zero":false},"axis":{"values":[0,0.2,0.4],"format":".1f"}}},
  "layer":[
   {"transform":[{"filter":{"field":"m","equal":"observed"}}],"mark":{"type":"area","interpolate":"monotone","opacity":1},
    "encoding":{"y2":{"datum":0},"fill":{"field":"m","type":"nominal","scale":{"domain":["observed","norm","normrank"],"range":["#D3D3D3","#FFFFFF","#FFFFFF"]},"legend":{"title":"Method","orient":"none","legendX":809,"legendY":86,"symbolType":"square","symbolSize":300,"symbolStrokeWidth":2,"labelOffset":10,"rowPadding":-4.5,"titlePadding":6}}}},
   {"mark":{"type":"line","interpolate":"monotone","strokeWidth":1.8},
    "encoding":{"stroke":{"field":"m","type":"nominal","scale":{"domain":["observed","norm","normrank"],"range":["#A6A6A6","#FF0000","#FFE000"]},"legend":{"title":"Method","orient":"none","legendX":809,"legendY":86,"symbolType":"square","symbolSize":300,"symbolStrokeWidth":2,"labelOffset":10,"rowPadding":-4.5,"titlePadding":6}}}}
  ]},
 {"width":229,"height":224,
  "title":{"text":"bandwidth = 0.25","orient":"bottom","anchor":"end","frame":"group","fontSize":11,"offset":8},
  "transform":[{"filter":{"field":"v","equal":"Frequency"}},{"filter":{"field":"m","oneOf":["observed","norm","normrank"]}}],
  "encoding":{
   "x":{"field":"x","type":"quantitative","title":"Frequency","scale":{"domain":[-0.19,4.13],"nice":false,"zero":false},"axis":{"values":[0,1,2,3,4],"format":"d"}},
   "y":{"field":"d","type":"quantitative","title":"density","scale":{"domain":[-0.024,0.501],"nice":false,"zero":false},"axis":{"values":[0,0.2,0.4],"format":".1f"}}},
  "layer":[
   {"transform":[{"filter":{"field":"m","equal":"observed"}}],"mark":{"type":"area","interpolate":"monotone","opacity":1},
    "encoding":{"y2":{"datum":0},"fill":{"field":"m","type":"nominal","scale":{"domain":["observed","norm","normrank"],"range":["#D3D3D3","#FFFFFF","#FFFFFF"]},"legend":{"title":"Method","orient":"none","legendX":809,"legendY":86,"symbolType":"square","symbolSize":300,"symbolStrokeWidth":2,"labelOffset":10,"rowPadding":-4.5,"titlePadding":6}}}},
   {"mark":{"type":"line","interpolate":"monotone","strokeWidth":1.8},
    "encoding":{"stroke":{"field":"m","type":"nominal","scale":{"domain":["observed","norm","normrank"],"range":["#A6A6A6","#FF0000","#FFE000"]},"legend":{"title":"Method","orient":"none","legendX":809,"legendY":86,"symbolType":"square","symbolSize":300,"symbolStrokeWidth":2,"labelOffset":10,"rowPadding":-4.5,"titlePadding":6}}}}
  ]}
 ]}
]
}
